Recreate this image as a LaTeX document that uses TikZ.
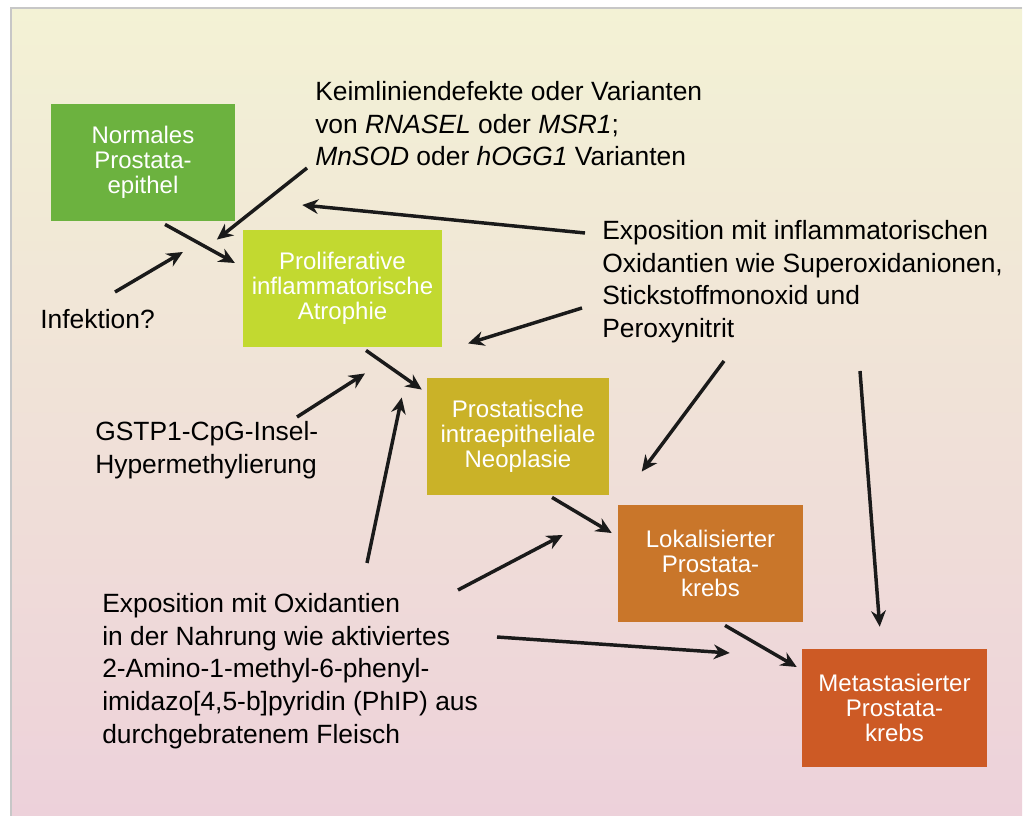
\documentclass[tikz,border=0pt]{standalone}
\usepackage{fontspec}
\setmainfont{Liberation Sans}
\usepackage{tikz}
\usetikzlibrary{arrows.meta}

\definecolor{bgtop}{HTML}{F3F2D5}
\definecolor{bgmid}{HTML}{F1E6D9}
\definecolor{bgbot}{HTML}{EDD1DA}
\definecolor{cnormal}{HTML}{6CB23F}
\definecolor{cprolif}{HTML}{C2D930}
\definecolor{cpin}{HTML}{CAB228}
\definecolor{clok}{HTML}{C9762A}
\definecolor{cmeta}{HTML}{CD5A25}
\definecolor{arrowcol}{HTML}{1A1A1A}

\begin{document}
\begin{tikzpicture}[x=0.75pt,y=-0.75pt,>={Stealth[length=12pt,width=11pt]},
  box/.style={text=white,align=center,inner sep=0pt,minimum height=88pt,
    font=\fontsize{18}{18.6}\selectfont},
  lbl/.style={anchor=north west,inner sep=0pt,align=left,
    font=\fontsize{19.8}{24.5}\selectfont},
  arr/.style={->,line width=2.6pt,draw=arrowcol}]
  \useasboundingbox (0,0) rectangle (1029,816);
  \shade[top color=bgtop,middle color=bgmid,bottom color=bgbot] (11,8) rectangle (1022,816);
  \draw[line width=1.5pt,color=black!22] (11,816) -- (11,8) -- (1022,8);

  % stages
  \node[box,fill=cnormal,minimum width=138pt] (normal) at (143,162.5) {Normales\\Prostata-\\epithel};
  \node[box,fill=cprolif,minimum width=149pt] (prolif) at (342.5,288.5) {Proliferative\\inflammatorische\\Atrophie};
  \node[box,fill=cpin,minimum width=136.5pt] (pin) at (518,436.5) {Prostatische\\intraepitheliale\\Neoplasie};
  \node[box,fill=clok,minimum width=138.75pt] (lok) at (710.5,563.5) {Lokalisierter\\Prostata-\\krebs};
  \node[box,fill=cmeta,minimum width=138.75pt,minimum height=88.5pt] (meta) at (894.5,708) {Metastasierter\\Prostata-\\krebs};

  % factors
  \node[lbl] (keim) at (315,81) {Keimliniendefekte oder Varianten\\von \textit{RNASEL} oder \textit{MSR1};\\\textit{MnSOD} oder \textit{hOGG1} Varianten};
  \node[lbl] (expinf) at (602,220) {Exposition mit inflammatorischen\\Oxidantien wie Superoxidanionen,\\Stickstoffmonoxid und\\Peroxynitrit};
  \node[lbl] (infekt) at (40,309) {Infektion?};
  \node[lbl] (gstp) at (95,421) {GSTP1-CpG-Insel-\\Hypermethylierung};
  \node[lbl] (expox) at (102,593) {Exposition mit Oxidantien\\in der Nahrung wie aktiviertes\\2-Amino-1-methyl-6-phenyl-\\imidazo[4,5-b]pyridin (PhIP) aus\\durchgebratenem Fleisch};

  % progression
  \draw[arr] ([shift={(22,3)}]normal.south) -- ([shift={(-8,-25.5)}]prolif.west);
  \draw[arr] ([shift={(23.5,3)}]prolif.south) -- ([shift={(-5,12)}]pin.north west);
  \draw[arr] ([shift={(34,2)}]pin.south) -- ([shift={(-6,-30.5)}]lok.west);
  \draw[arr] ([shift={(14.5,3)}]lok.south) -- ([shift={(-5,-41)}]meta.west);
  % influences
  \draw[arr] ([shift={(-8,87)}]keim.north west) -- ([shift={(-26,10)}]prolif.north west);
  \draw[arr] ([shift={(75,-17)}]infekt.north west) -- ([shift={(-60,-36.5)}]prolif.west);
  \draw[arr] ([shift={(202,-4)}]gstp.north west) -- ([shift={(22.5,26)}]prolif.south);
  \draw[arr] ([shift={(-17,13)}]expinf.north west) -- ([shift={(67,42.5)}]normal.east);
  \draw[arr] ([shift={(-20,88)}]expinf.north west) -- ([shift={(26,-4)}]prolif.south east);
  \draw[arr] ([shift={(122,141)}]expinf.north west) -- ([shift={(24,-33)}]lok.north west);
  \draw[arr] ([shift={(258,151)}]expinf.north west) -- ([shift={(78,-22)}]meta.north west);
  \draw[arr] ([shift={(265,-30)}]expox.north west) -- ([shift={(-25,20)}]pin.north west);
  \draw[arr] ([shift={(356,-3)}]expox.north west) -- ([shift={(-55,-28.5)}]lok.west);
  \draw[arr] ([shift={(395,44)}]expox.north west) -- ([shift={(-72,-55)}]meta.west);
\end{tikzpicture}
\end{document}
